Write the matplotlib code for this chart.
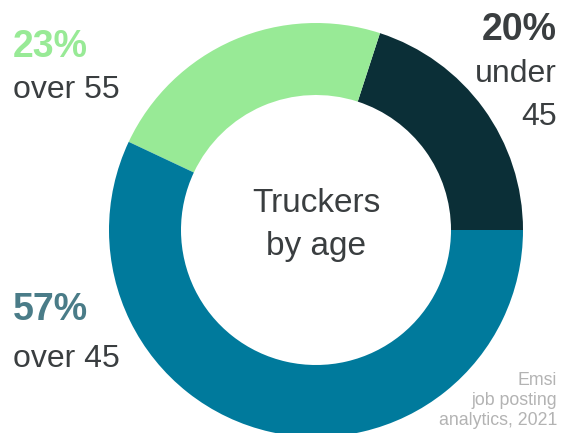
import matplotlib
matplotlib.use("Agg")
import matplotlib.pyplot as plt

labels = ["under 45", "over 55", "over 45"]
values = [20, 23, 57]
colors = ["#0b2f37", "#98ea96", "#007a9c"]
pct_colors = ["#3a3e40", "#98ea96", "#4a7c88"]

W, H = 563, 433
fig = plt.figure(figsize=(W / 100, H / 100), dpi=100)
ax = fig.add_axes([0, 0, 1, 1])
ax.pie(values, colors=colors, startangle=0, counterclock=True,
       radius=207, center=(316, H - 230),
       wedgeprops=dict(width=72, linewidth=0))
ax.set_xlim(0, W)
ax.set_ylim(0, H)
ax.set_aspect("equal")
ax.axis("off")

font = "Liberation Sans"
dark = "#3a3e40"

def t(x, y, s, **kw):
    ax.text(x, H - y, s, family=font, va="baseline", **kw)

# 20% under 45
t(557, 40, f"{values[0]}%", ha="right", fontsize=27, fontweight="bold", color=pct_colors[0])
t(557, 82, "under", ha="right", fontsize=23, color=dark)
t(557, 125, "45", ha="right", fontsize=23, color=dark)
# 23% over 55
t(13, 57, f"{values[1]}%", ha="left", fontsize=27, fontweight="bold", color=pct_colors[1])
t(13, 98, labels[1], ha="left", fontsize=23, color=dark)
# 57% over 45
t(13, 320, f"{values[2]}%", ha="left", fontsize=27, fontweight="bold", color=pct_colors[2])
t(13, 367, labels[2], ha="left", fontsize=23, color=dark)

# center
t(316, 212, "Truckers", ha="center", fontsize=24, color=dark)
t(316, 255, "by age", ha="center", fontsize=24, color=dark)

# source
for y, s in [(385, "Emsi"), (405, "job posting"), (425, "analytics, 2021")]:
    t(557, y, s, ha="right", fontsize=12.8, color="#b3b3b3")

fig.savefig("out.png", dpi=100)
